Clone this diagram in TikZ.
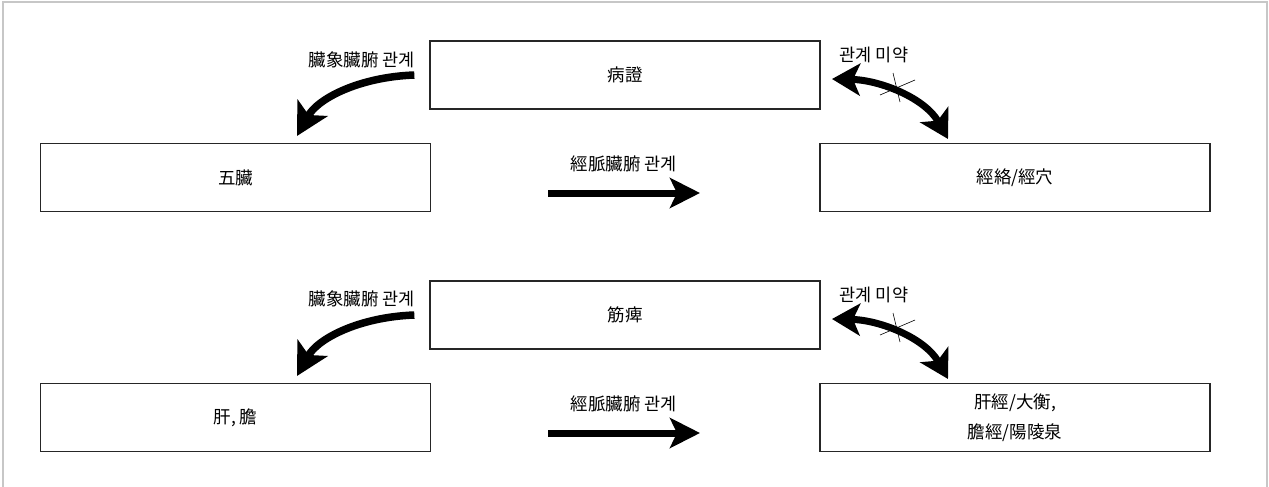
\documentclass[tikz,border=0pt]{standalone}
\usepackage{fontspec}
\setmainfont{Noto Sans CJK KR}
\usetikzlibrary{arrows.meta}
\begin{document}
\begin{tikzpicture}[x=1pt,y=-1pt,
  box/.style={draw=black!85, line width=1.3pt, minimum width=390pt, minimum height=68pt, inner sep=0pt, align=center, font=\fontsize{17.5}{30}\selectfont},
  lbl/.style={inner sep=0pt, font=\fontsize{17.5}{20}\selectfont},
  bigarrow/.style={line width=7.5pt, -{Stealth[length=32pt,width=34pt,inset=8pt]}},
  strarrow/.style={line width=7pt, -{Stealth[length=30pt,width=30pt,inset=7pt]}},
  dblarrow/.style={line width=7pt, {Stealth[length=28pt,width=32pt,inset=7pt]}-{Stealth[length=28pt,width=32pt,inset=7pt]}},
  cross/.style={line width=0.6pt, black}
]
\useasboundingbox (0,0) rectangle (1269,487);
\draw[black!22, line width=2pt] (3,490) -- (3,2) -- (1267,2) -- (1267,490);

% top row
\node[box] (bz) at (625,75) {病證};
\node[box] (wz) at (235.5,177.5) {五臟};
\node[box] (jl) at (1015,177.5) {經絡/經穴};
% bottom row
\node[box] (jb) at (625,315) {筋痺};
\node[box] (gd) at (235.5,417.5) {肝, 膽};
\node[box] (gj) at (1015,417.5) {肝經/大衡,\\膽經/陽陵泉};

% labels
\node[lbl, anchor=east] (l1) at (415,60) {臟象臟腑 관계};
\node[lbl] (l2) at (624,164) {經脈臟腑 관계};
\node[lbl] (l3) at (874,55) {관계 미약};
\node[lbl, anchor=east] (l4) at (415,299) {臟象臟腑 관계};
\node[lbl] (l5) at (624,404) {經脈臟腑 관계};
\node[lbl] (l6) at (874,295) {관계 미약};

% arrow endpoints
\coordinate (a1s) at ([xshift=-15pt]bz.west);
\coordinate (a1e) at (297,136);
\coordinate (s1s) at (548,193);
\coordinate (s1e) at (700,193);
\coordinate (d1s) at (832,79);
\coordinate (d1e) at (948,139);

\coordinate (a2s) at ([xshift=-15pt]jb.west);
\coordinate (a2e) at (297,376);
\coordinate (s2s) at (548,433);
\coordinate (s2e) at (700,433);
\coordinate (d2s) at (832,319);
\coordinate (d2e) at (948,379);

\draw[bigarrow] (a1s) .. controls (360,77) and (318,98) .. (a1e);
\draw[strarrow] (s1s) -- (s1e);
\draw[dblarrow] (d1s) .. controls (880,80) and (925,98) .. (d1e);
\draw[cross] (880,95) -- (915,80);
\draw[cross] (893,73) -- (900,102);

\draw[bigarrow] (a2s) .. controls (360,317) and (318,338) .. (a2e);
\draw[strarrow] (s2s) -- (s2e);
\draw[dblarrow] (d2s) .. controls (880,320) and (925,338) .. (d2e);
\draw[cross] (880,335) -- (915,320);
\draw[cross] (893,313) -- (900,342);
\end{tikzpicture}
\end{document}
